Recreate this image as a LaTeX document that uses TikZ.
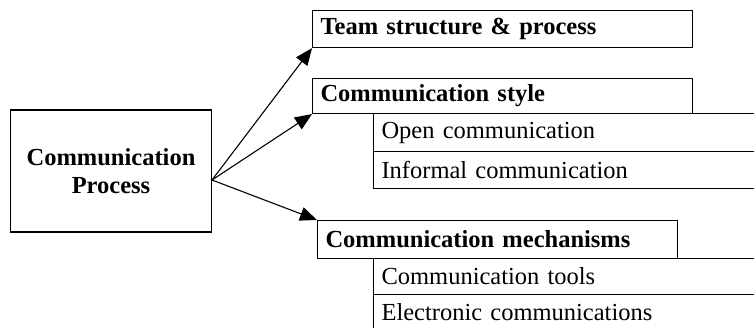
\documentclass[tikz,border=0pt]{standalone}
\usepackage{fontspec}
\setmainfont{Liberation Serif}
\usetikzlibrary{arrows.meta}

\tikzset{
  box/.style = {draw, anchor = north west, align = left, inner xsep = 8pt, inner ysep = 0pt, font = \fontsize{24.5}{28}\selectfont\bfseries},
  subbox/.style = {box, text width = 384pt, font = \fontsize{24.5}{28}\selectfont},
  tip/.style = {-{Triangle[length = 17pt, width = 14pt]}}
}

\begin{document}
\begin{tikzpicture}[x = 1pt, y = -1pt, line width = 1.1pt]
\clip (0, 0) rectangle (754, 328);

\node[draw, align = center, minimum width = 201pt, minimum height = 122pt, font = \fontsize{24.5}{28}\selectfont\bfseries] at (111, 171) (proc) {Communication\\Process};

\node[box, text width = 364pt, minimum height = 37pt] at (312, 10) (team)  {Team structure \& process};
\node[box, text width = 364pt, minimum height = 35pt] at (312, 78) (style) {Communication style};
\node[subbox, minimum height = 38pt] at (373, 113) (open)     {Open communication};
\node[subbox, minimum height = 37pt] at (373, 151) (informal) {Informal communication};

\node[box, text width = 344pt, minimum height = 38pt] at (317, 220) (mech) {Communication mechanisms};
\node[subbox, minimum height = 36pt] at (373, 258) (tools)      {Communication tools};
\node[subbox, minimum height = 36pt] at (373, 294) (electronic) {Electronic communications};

\coordinate (out) at (212, 180);
\draw[tip] (out) -- (team.south west);
\draw[tip] (out) -- (style.south west);
\draw[tip] (out) -- (mech.north west);

\end{tikzpicture}
\end{document}
